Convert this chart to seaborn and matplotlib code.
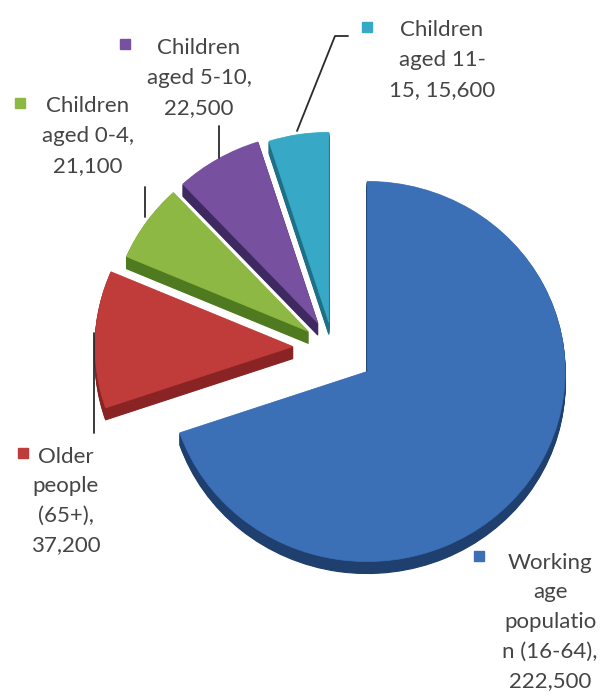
import matplotlib
matplotlib.use("Agg")
import matplotlib.pyplot as plt
import seaborn as sns

# population by age band
categories = ["Working age population (16-64)", "Older people (65+)",
              "Children aged 0-4", "Children aged 5-10", "Children aged 11-15"]
values = [222500, 37200, 21100, 22500, 15600]
# data labels as Excel wrapped them (value appended below)
wrapped = ["Working\nage\npopulatio\nn (16-64),\n{v}",
           "Older\npeople\n(65+),\n{v}",
           "Children\naged 0-4,\n{v}",
           "Children\naged 5-10,\n{v}",
           "Children\naged 11-\n15, {v}"]

top_colors = ["#3b6fb6", "#c03c3b", "#8db843", "#7750a0", "#37a9c6"]
side_colors = ["#1f3f6e", "#8a2424", "#4f7a1f", "#3e2a60", "#1f6f86"]

sns.set_theme(style="white")
plt.rcParams["font.family"] = ["Lato", "DejaVu Sans"]

W, H = 605, 700
K = 0.96  # slight vertical squash of the 3-D pie
LINE = 32  # label line pitch in pixels


def to_data(px, py):
    return px, (H - py) / K


fig = plt.figure(figsize=(6.05, 7), dpi=100)
ax = fig.add_axes([0, 0, 1, 1])

cx, cy = to_data(333, 348)
R = 198
explode = [42, 40, 30, 30, 27]
depth = 12

# extruded sides, then the top faces
n_layers = 12
for i in range(n_layers, 0, -1):
    off = depth * i / n_layers / K
    ws, _ = ax.pie(values, colors=side_colors, startangle=90, counterclock=False,
                   explode=explode, radius=R, center=(cx, cy - off), frame=True)
    for w, c in zip(ws, side_colors):
        w.set_edgecolor(c)
        w.set_linewidth(0.8)
wedges, _ = ax.pie(values, colors=top_colors, startangle=90, counterclock=False,
                   explode=explode, radius=R, center=(cx, cy), frame=True)
for w, c in zip(wedges, top_colors):
    w.set_edgecolor(c)
    w.set_linewidth(0.5)

ax.set_xlim(0, W)
ax.set_ylim(0, H / K)
ax.set_aspect("auto")
ax.axis("off")

# data labels: first-line centre of each block, legend key position
label_pos = [(550, 558), (66, 453), (88, 104), (199, 46), (442, 28)]
key_pos = [(479, 556), (23, 453), (20, 103), (125, 44), (367, 27)]
for fmt, v, (tx, ty), (kx, ky), c in zip(wrapped, values, label_pos, key_pos, top_colors):
    text = fmt.format(v=f"{v:,}")
    n = text.count("\n") + 1
    x, y = to_data(tx, ty + (n - 1) * LINE / 2)
    ax.text(x, y, text, ha="center", va="center", multialignment="center",
            fontsize=16, color="#454545", linespacing=1.6)
    ax.plot(*to_data(kx, ky), marker="s", markersize=7, color=c,
            markeredgecolor=c)

# leader lines
leaders = [
    [(348, 36), (335, 36), (297, 131)],
    [(219, 126), (219, 158)],
    [(145, 187), (145, 217)],
    [(94, 333), (94, 433)],
]
for pts in leaders:
    xs, ys = zip(*[to_data(px, py) for px, py in pts])
    ax.plot(xs, ys, color="#2b2b2b", linewidth=1.3)

fig.savefig("out.png", dpi=100)
